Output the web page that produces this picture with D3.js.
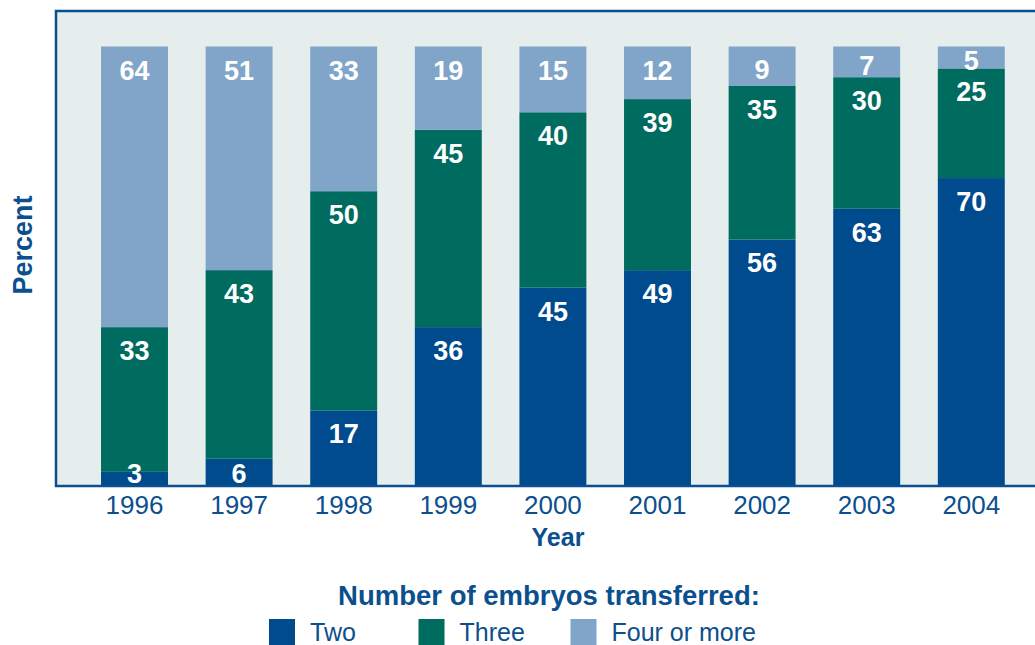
<!DOCTYPE html>
<html>
<head>
<meta charset="utf-8">
<script src="https://cdn.jsdelivr.net/npm/d3@7"></script>
<style>
  body { margin: 0; background: #fff; }
  svg { display: block; font-family: "Liberation Sans", Arial, Helvetica, sans-serif; }
</style>
</head>
<body>
<svg id="chart" width="1035" height="645"></svg>
<script>
// data (percent of transfers)
var years = ["1996", "1997", "1998", "1999", "2000", "2001", "2002", "2003", "2004"];
var two   = [3, 6, 17, 36, 45, 49, 56, 63, 70];
var three = [33, 43, 50, 45, 40, 39, 35, 30, 25];
var four  = [64, 51, 33, 19, 15, 12, 9, 7, 5];
var seriesNames = ["Two", "Three", "Four or more"];
var seriesColors = ["#004b8d", "#006b5f", "#80a5c8"];

var textColor = "#0b4f8e";
var svg = d3.select("#chart");

var plot = { left: 56, top: 11, right: 1040, bottom: 486 };

// background panel with blue frame
svg.append("rect")
    .attr("x", plot.left)
    .attr("y", plot.top)
    .attr("width", plot.right - plot.left)
    .attr("height", plot.bottom - plot.top)
    .attr("fill", "#e5eeed")
    .attr("stroke", "#0a4f91")
    .attr("stroke-width", 2.5);

var x = d3.scaleBand()
    .domain(years)
    .range([82.2, 1023.6])
    .paddingInner(0.36)
    .paddingOuter(0.18);

var y = d3.scaleLinear()
    .domain([0, 100])
    .range([485, 46.5]);

// stack the three series
var rows = years.map(function(yr, i) {
    return { year: yr, Two: two[i], Three: three[i], "Four or more": four[i] };
});
var stacked = d3.stack().keys(seriesNames)(rows);

svg.append("g").attr("class", "bars")
    .selectAll("g")
    .data(stacked)
    .join("g")
    .attr("fill", function(d, i) { return seriesColors[i]; })
    .selectAll("rect")
    .data(function(d) { return d; })
    .join("rect")
    .attr("x", function(d) { return x(d.data.year); })
    .attr("y", function(d) { return y(d[1]); })
    .attr("width", x.bandwidth())
    .attr("height", function(d) { return y(d[0]) - y(d[1]); });

// value labels on top of all bars, near the top of each segment
var labelData = [];
stacked.forEach(function(layer) {
    layer.forEach(function(s) {
        labelData.push({ year: s.data.year, v: s.data[layer.key], y0: s[0], y1: s[1] });
    });
});

svg.append("g").attr("class", "labels")
    .selectAll("text")
    .data(labelData)
    .join("text")
    .attr("x", function(d) { return x(d.year) + x.bandwidth() / 2; })
    .attr("y", function(d) {
        var top = y(d.y1), bot = y(d.y0);
        var center = (top + bot) / 2;
        return Math.min(top + 33, center + 13, 483);
    })
    .attr("text-anchor", "middle")
    .attr("fill", "#fff")
    .attr("font-weight", "bold")
    .attr("font-size", "27px")
    .text(function(d) { return d.v; });

// year labels
svg.append("g")
    .selectAll("text")
    .data(years)
    .join("text")
    .attr("x", function(d) { return x(d) + x.bandwidth() / 2; })
    .attr("y", 514)
    .attr("text-anchor", "middle")
    .attr("fill", textColor)
    .attr("font-size", "26px")
    .text(function(d) { return d; });

svg.append("text")
    .attr("x", 558)
    .attr("y", 546)
    .attr("text-anchor", "middle")
    .attr("fill", textColor)
    .attr("font-weight", "bold")
    .attr("font-size", "25px")
    .text("Year");

svg.append("text")
    .attr("transform", "translate(32,245) rotate(-90)")
    .attr("text-anchor", "middle")
    .attr("fill", textColor)
    .attr("font-weight", "bold")
    .attr("font-size", "27px")
    .text("Percent");

// legend
svg.append("text")
    .attr("x", 549)
    .attr("y", 605)
    .attr("text-anchor", "middle")
    .attr("fill", textColor)
    .attr("font-weight", "bold")
    .attr("font-size", "27.5px")
    .text("Number of embryos transferred:");

var legendX = [269, 418.5, 570.5];
var legend = svg.append("g")
    .selectAll("g")
    .data(seriesNames)
    .join("g")
    .attr("transform", function(d, i) { return "translate(" + legendX[i] + ",619)"; });

legend.append("rect")
    .attr("width", 26)
    .attr("height", 26)
    .attr("fill", function(d, i) { return seriesColors[i]; });

legend.append("text")
    .attr("x", 41)
    .attr("y", 22)
    .attr("fill", textColor)
    .attr("font-size", "25px")
    .text(function(d) { return d; });
</script>
</body>
</html>
